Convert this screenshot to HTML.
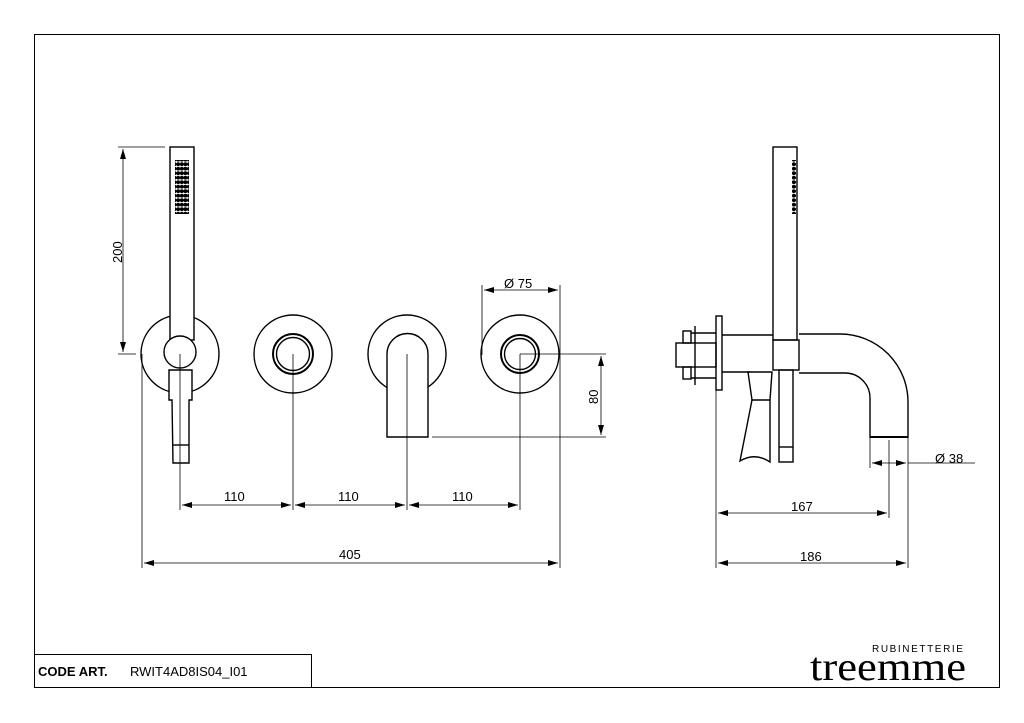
<!DOCTYPE html>
<html><head><meta charset="utf-8"><style>
html,body{margin:0;padding:0;background:#fff;}
svg{display:block;}
text{font-family:"Liberation Sans",sans-serif;fill:#000;}
</style></head><body>
<svg width="1024" height="723" viewBox="0 0 1024 723" xmlns="http://www.w3.org/2000/svg">
<defs>
<marker id="a" viewBox="0 0 10 6" refX="10" refY="3" markerWidth="10" markerHeight="6" orient="auto-start-reverse" markerUnits="userSpaceOnUse"><path d="M0,0 L10,3 L0,6 z" fill="#000"/></marker>
<pattern id="dots" width="3.6" height="4.5" patternUnits="userSpaceOnUse"><circle cx="1.8" cy="2.2" r="1.9" fill="#000"/></pattern>
</defs>
<rect x="34.5" y="34.5" width="965" height="653" fill="none" stroke="#000" stroke-width="1"/>
<rect x="34.5" y="654.5" width="277" height="33" fill="none" stroke="#000" stroke-width="1"/>
<text x="38" y="676" font-size="13" font-weight="bold">CODE ART.</text>
<text x="130" y="676" font-size="13">RWIT4AD8IS04_I01</text>
<text x="872" y="652" font-size="10" letter-spacing="1.6">RUBINETTERIE</text>
<text x="810" y="680" font-size="40" style="font-family:'Liberation Serif',serif" textLength="156" lengthAdjust="spacingAndGlyphs">treemme</text>

<g fill="none" stroke="#000" stroke-width="1.4">
<circle cx="180" cy="354" r="39"/>
<rect x="170" y="147" width="24" height="193" fill="#fff"/>
<rect x="175" y="160" width="14" height="54" fill="url(#dots)" stroke="none"/>
<circle cx="180" cy="352" r="16" fill="#fff"/>
<path d="M169,370 L192,370 L192,400 L189,400 L189,463 L173,463 L172,400 L169,400 Z" fill="#fff"/>
<line x1="173" y1="445" x2="189" y2="445"/>
<circle cx="293" cy="354" r="39"/>
<circle cx="293" cy="354" r="20" stroke-width="2"/>
<circle cx="293" cy="354" r="16.5"/>
<circle cx="407" cy="354" r="39"/>
<path d="M387,437 L387,354 A20.5,20.5 0 0 1 428,354 L428,437 Z" fill="#fff"/>
<circle cx="520" cy="354" r="39"/>
<circle cx="520" cy="354" r="19" stroke-width="2"/>
<circle cx="520" cy="354" r="15.5"/>
</g>
<g fill="none" stroke="#000" stroke-width="0.8">
<line x1="118" y1="147" x2="165" y2="147"/>
<line x1="118" y1="354" x2="136" y2="354"/>
<line x1="123" y1="149" x2="123" y2="352" marker-start="url(#a)" marker-end="url(#a)"/>
<line x1="142" y1="354" x2="142" y2="568"/>
<line x1="180" y1="354" x2="180" y2="510"/>
<line x1="293" y1="354" x2="293" y2="510"/>
<line x1="407" y1="354" x2="407" y2="510"/>
<line x1="520" y1="354" x2="520" y2="510"/>
<line x1="560" y1="285" x2="560" y2="568"/>
<line x1="482" y1="285" x2="482" y2="355"/>
<line x1="182" y1="505" x2="291" y2="505" marker-start="url(#a)" marker-end="url(#a)"/>
<line x1="295" y1="505" x2="405" y2="505" marker-start="url(#a)" marker-end="url(#a)"/>
<line x1="409" y1="505" x2="518" y2="505" marker-start="url(#a)" marker-end="url(#a)"/>
<line x1="144" y1="563" x2="558" y2="563" marker-start="url(#a)" marker-end="url(#a)"/>
<line x1="484" y1="290" x2="558" y2="290" marker-start="url(#a)" marker-end="url(#a)"/>
<line x1="520" y1="354" x2="606" y2="354"/>
<line x1="432" y1="437" x2="606" y2="437"/>
<line x1="601" y1="356" x2="601" y2="435" marker-start="url(#a)" marker-end="url(#a)"/>
</g>
<text x="0" y="0" font-size="13" transform="translate(122,263) rotate(-90)">200</text>
<text x="0" y="0" font-size="13" transform="translate(598,404) rotate(-90)">80</text>
<text x="224" y="501" font-size="13">110</text>
<text x="338" y="501" font-size="13">110</text>
<text x="452" y="501" font-size="13">110</text>
<text x="339" y="559" font-size="13">405</text>
<text x="504" y="288" font-size="13">Ø 75</text>

<g fill="none" stroke="#000" stroke-width="1.4">
<rect x="773" y="147" width="24" height="193"/>
<rect x="792" y="160" width="4" height="54" fill="url(#dots)" stroke="none"/>
<path d="M799,334 L840,334 A68,68 0 0 1 908,402 L908,437 L870,437 L870,398 A25,25 0 0 0 845,373 L799,373"/>
<line x1="870" y1="437" x2="908" y2="437" stroke-width="2"/>
<rect x="773" y="340" width="26" height="30"/>
<line x1="722" y1="335" x2="773" y2="335"/>
<line x1="722" y1="372" x2="750" y2="372"/>
<rect x="716" y="316" width="6" height="74"/>
<rect x="676" y="343" width="40" height="24"/>
<rect x="683" y="331" width="8" height="12"/>
<rect x="683" y="367" width="8" height="12"/>
<line x1="695" y1="326" x2="695" y2="385"/>
<line x1="691" y1="333" x2="716" y2="333"/>
<line x1="691" y1="378" x2="716" y2="378"/>
<rect x="779" y="370" width="14" height="92"/>
<line x1="779" y1="447" x2="793" y2="447"/>
<path d="M748,372 L772,372 L770,400 L752,400 Z"/>
<path d="M752,400 L740,461 Q755,452 770,462 L770,400" />
</g>
<g fill="none" stroke="#000" stroke-width="0.8">
<line x1="716" y1="390" x2="716" y2="568"/>
<line x1="908" y1="437" x2="908" y2="568"/>
<line x1="870" y1="437" x2="870" y2="468"/>
<line x1="889" y1="440" x2="889" y2="518"/>
<line x1="872" y1="463" x2="906" y2="463" marker-start="url(#a)" marker-end="url(#a)"/>
<line x1="908" y1="463" x2="975" y2="463"/>
<line x1="718" y1="513" x2="887" y2="513" marker-start="url(#a)" marker-end="url(#a)"/>
<line x1="718" y1="563" x2="906" y2="563" marker-start="url(#a)" marker-end="url(#a)"/>
</g>
<text x="935" y="463" font-size="13">Ø 38</text>
<text x="791" y="511" font-size="13">167</text>
<text x="800" y="561" font-size="13">186</text>
</svg>
</body></html>
